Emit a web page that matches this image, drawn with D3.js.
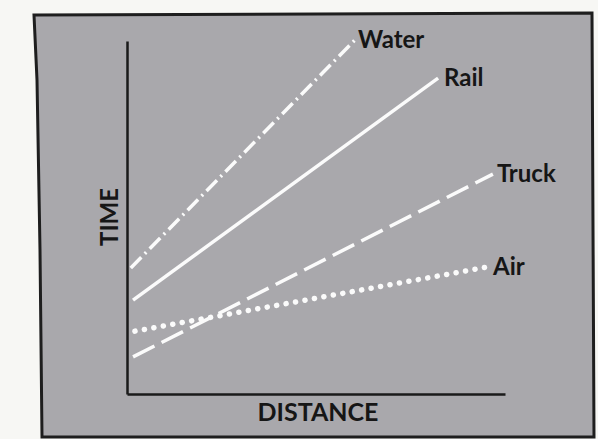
<!DOCTYPE html>
<html>
<head>
<meta charset="utf-8">
<script src="https://cdn.jsdelivr.net/npm/d3@7"></script>
<style>
  html, body { margin: 0; padding: 0; background: #f7f7f4; }
  svg { display: block; }
</style>
</head>
<body>
<div id="chart"></div>
<script>
// modes of transport, with [distance, time] at the start and end of each line
const modes = ["Water", "Rail", "Truck", "Air"];
const startPoints = [[0.1, 3.57], [0.16, 2.66], [0.16, 1.05], [0.21, 1.78]];
const endPoints = [[6.03, 10.03], [8.23, 8.95], [9.68, 6.23], [9.55, 3.6]];

const width = 598,
  height = 439;

const svg = d3
  .select("#chart")
  .append("svg")
  .attr("width", width)
  .attr("height", height);

// grey panel with a slightly crooked black frame
svg
  .append("path")
  .attr("d", "M34,15 L592,13 L594,437 L42,437 L40,250 L37,80 Z")
  .attr("fill", "#a9a8ac")
  .attr("stroke", "#1e1e1e")
  .attr("stroke-width", 3);

const x = d3.scaleLinear().domain([0, 10]).range([127, 505]);
const y = d3.scaleLinear().domain([0, 10]).range([394, 41]);

// plain axes, no ticks
svg
  .append("g")
  .attr("transform", `translate(0,${y(0)})`)
  .call(d3.axisBottom(x).ticks(0).tickSize(0).tickSizeOuter(0))
  .call((g) => g.select(".domain").attr("stroke", "#1a1a1a").attr("stroke-width", 2.5));

svg
  .append("g")
  .attr("transform", `translate(${x(0)},0)`)
  .call(d3.axisLeft(y).ticks(0).tickSize(0).tickSizeOuter(0))
  .call((g) => g.select(".domain").attr("stroke", "#1a1a1a").attr("stroke-width", 2.5));

// line styles per mode
const dashes = ["15 5 2 5", null, "24 8", "0.1 9.5"];
const caps = ["butt", "butt", "butt", "round"];
const widths = [3.5, 3.5, 3.5, 5.5];

const line = d3
  .line()
  .x((d) => x(d[0]))
  .y((d) => y(d[1]));

modes.forEach((m, i) => {
  svg
    .append("path")
    .attr("d", line([startPoints[i], endPoints[i]]))
    .attr("fill", "none")
    .attr("stroke", "#fbfbfb")
    .attr("stroke-width", widths[i])
    .attr("stroke-linecap", caps[i])
    .attr("stroke-dasharray", dashes[i]);
});

// labels at the end of each line
const labelOffsets = [[3, 8], [6, 8], [4, 8], [5, 8]];
svg
  .selectAll(".mode-label")
  .data(modes)
  .enter()
  .append("text")
  .attr("class", "mode-label")
  .attr("x", (d, i) => x(endPoints[i][0]) + labelOffsets[i][0])
  .attr("y", (d, i) => y(endPoints[i][1]) + labelOffsets[i][1])
  .attr("fill", "#161616")
  .style("font-family", "Lato, 'Open Sans', sans-serif")
  .style("font-weight", "bold")
  .style("font-size", "24px")
  .text((d) => d);

// axis titles
svg
  .append("text")
  .attr("x", 318)
  .attr("y", 421)
  .attr("text-anchor", "middle")
  .attr("fill", "#161616")
  .style("font-family", "Lato, 'Open Sans', sans-serif")
  .style("font-weight", "bold")
  .style("font-size", "25px")
  .text("DISTANCE");

svg
  .append("text")
  .attr("transform", "translate(118,217) rotate(-90)")
  .attr("text-anchor", "middle")
  .attr("fill", "#161616")
  .style("font-family", "Lato, 'Open Sans', sans-serif")
  .style("font-weight", "bold")
  .style("font-size", "24px")
  .text("TIME");
</script>
</body>
</html>
